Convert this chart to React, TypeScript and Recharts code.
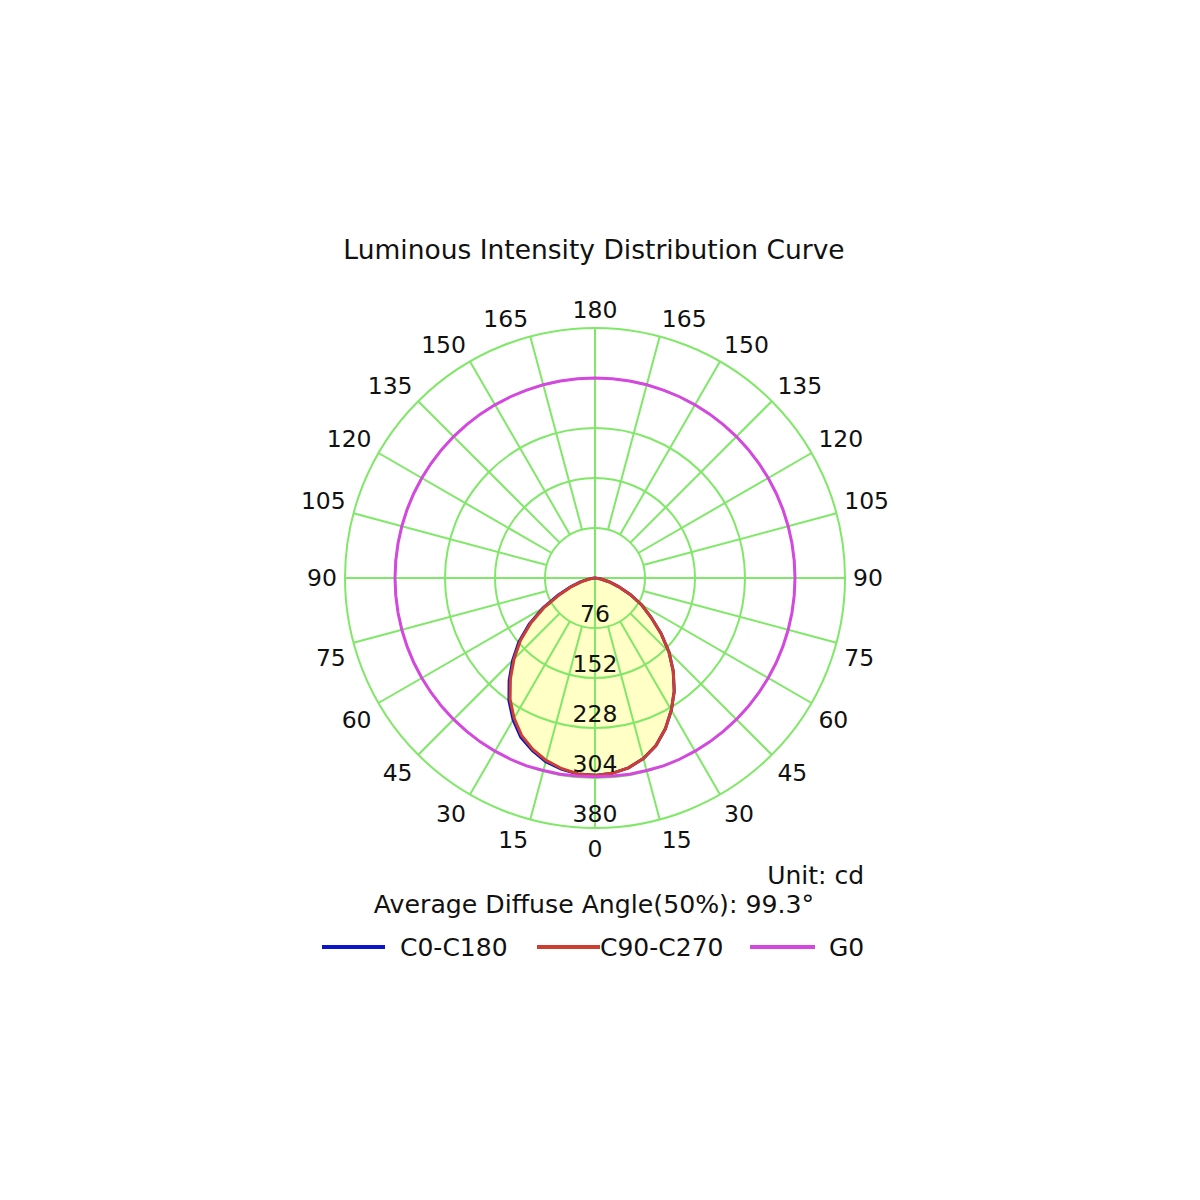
import React from 'react';
import { RadarChart, Radar, PolarGrid, PolarAngleAxis, PolarRadiusAxis } from 'recharts';

// gamma angle of each sample, going from the bottom (0) round through the left side
const gammaAngles = [
  0, 5, 10, 15, 20, 25, 30, 35, 40, 45, 50, 55, 60, 65, 70, 75, 80, 85,
  90, 95, 100, 105, 110, 115, 120, 125, 130, 135, 140, 145, 150, 155, 160, 165, 170, 175,
  180, 185, 190, 195, 200, 205, 210, 215, 220, 225, 230, 235, 240, 245, 250, 255, 260, 265,
  270, 275, 280, 285, 290, 295, 300, 305, 310, 315, 320, 325, 330, 335, 340, 345, 350, 355,
];

// intensities in cd
const c0c180 = [
  300, 299, 295, 289, 279, 267, 249, 228, 203, 177, 151, 122, 91, 62, 40, 23, 10, 3,
  0, 0, 0, 0, 0, 0, 0, 0, 0, 0, 0, 0, 0, 0, 0, 0, 0, 0,
  0, 0, 0, 0, 0, 0, 0, 0, 0, 0, 0, 0, 0, 0, 0, 0, 0, 0,
  0, 2, 9, 22, 38, 59, 82, 104, 131, 159, 185, 210, 232, 253, 271, 284, 293, 298,
];

const c90c270 = [
  300, 299, 294, 287, 277, 264, 246, 225, 200, 174, 148, 119, 89, 59, 38, 21, 9, 2,
  0, 0, 0, 0, 0, 0, 0, 0, 0, 0, 0, 0, 0, 0, 0, 0, 0, 0,
  0, 0, 0, 0, 0, 0, 0, 0, 0, 0, 0, 0, 0, 0, 0, 0, 0, 0,
  0, 2, 9, 22, 38, 59, 82, 104, 131, 159, 185, 210, 232, 253, 271, 284, 293, 298,
];

const g0 = [
  302, 302, 303, 303, 304, 304, 304, 304, 304, 304, 304, 304, 304, 304, 304, 304, 304, 304,
  304, 304, 304, 304, 304, 304, 304, 304, 304, 304, 304, 304, 304, 304, 304, 304, 304, 304,
  304, 304, 304, 304, 304, 304, 304, 304, 304, 304, 304, 304, 304, 304, 304, 304, 304, 304,
  304, 304, 304, 304, 304, 304, 304, 304, 304, 304, 304, 304, 304, 304, 304, 303, 303, 302,
];

const radiusTicks = [76, 152, 228, 304, 380];
const radiusDomain = [0, 380];
const labelStep = 15;

const seriesNames = ['C0-C180', 'C90-C270', 'G0'];
const titleText = 'Luminous Intensity Distribution Curve';
const unitText = 'Unit: cd';
const diffuseText = 'Average Diffuse Angle(50%): 99.3°';

const rows = gammaAngles.map((deg, i) => ({
  deg,
  c0: c0c180[i],
  c90: c90c270[i],
  g0: g0[i],
}));

// layout
const W = 1200;
const H = 1200;
const CX = 595;
const CY = 578;
const OUTER = 250;
const INNER_HOLE = 50;
// clockwise from the bottom
const START = -90;
const END = -450;

const GRID = '#80e868';
const BLUE = '#0a14c8';
const RED = '#cc3d32';
const PURPLE = '#d448e0';
const FILL = '#ffffc6';
const FONT = '"DejaVu Sans", Verdana, sans-serif';

const spokeAngles = gammaAngles.filter((d) => d % labelStep === 0).map((d) => START - d);
const crossAngles = [-90, 0, 90, 180];
const ringRadii = radiusTicks.map((v) => (v / radiusDomain[1]) * OUTER);

const layer: React.CSSProperties = { position: 'absolute', left: 0, top: 0 };
const noMargin = { top: 0, right: 0, bottom: 0, left: 0 };

const tickText: React.CSSProperties = { fontFamily: FONT, fontSize: 23.5, fill: '#111' };

const AngleTick = (props: any) => {
  const { x, y, payload, textAnchor } = props;
  const deg = Number(payload.value);
  if (deg % labelStep !== 0) return <g />;
  const gamma = deg <= 180 ? deg : 360 - deg;
  const dy = gamma === 90 ? 0 : gamma < 90 ? 13 : -10;
  return (
    <text x={x} y={y + dy} textAnchor={textAnchor} dominantBaseline="central" style={tickText}>
      {gamma}
    </text>
  );
};

const RadiusTick = (props: any) => {
  const { x, y, payload } = props;
  return (
    <text x={x} y={y - 14} textAnchor="middle" dominantBaseline="central" style={tickText}>
      {payload.value}
    </text>
  );
};

const chartProps = {
  width: W,
  height: H,
  cx: CX,
  cy: CY,
  outerRadius: OUTER,
  startAngle: START,
  endAngle: END,
  data: rows,
  margin: noMargin,
};

const legendLayout = [
  { color: BLUE, lineLeft: 322, lineWidth: 63, textLeft: 400 },
  { color: RED, lineLeft: 537, lineWidth: 63, textLeft: 600 },
  { color: PURPLE, lineLeft: 750, lineWidth: 65, textLeft: 829 },
];

const textBase: React.CSSProperties = {
  position: 'absolute',
  fontFamily: FONT,
  color: '#111',
  whiteSpace: 'nowrap',
  lineHeight: 1,
};

export default function App() {
  return (
    <div style={{ position: 'relative', width: W, height: H, background: '#fff' }}>
      <style>{'body{margin:0}'}</style>

      {/* yellow body of the lobe */}
      <div style={layer}>
        <RadarChart {...chartProps} innerRadius={0}>
          <PolarAngleAxis dataKey="deg" tick={false} axisLine={false} tickLine={false} />
          <PolarRadiusAxis domain={radiusDomain} ticks={radiusTicks} tick={false} axisLine={false} />
          <Radar dataKey="c90" stroke="none" fill={FILL} fillOpacity={1} isAnimationActive={false} />
        </RadarChart>
      </div>

      {/* spokes that start at the inner ring */}
      <div style={layer}>
        <RadarChart {...chartProps} innerRadius={INNER_HOLE}>
          <PolarAngleAxis dataKey="deg" tick={false} axisLine={false} tickLine={false} />
          <PolarGrid gridType="circle" polarAngles={spokeAngles} polarRadius={[]} stroke={GRID} strokeWidth={2} strokeOpacity={1} />
        </RadarChart>
      </div>

      {/* rings and the two lines through the centre */}
      <div style={layer}>
        <RadarChart {...chartProps} innerRadius={0}>
          <PolarAngleAxis dataKey="deg" tick={false} axisLine={false} tickLine={false} />
          <PolarRadiusAxis domain={radiusDomain} ticks={radiusTicks} tick={false} axisLine={false} />
          <PolarGrid gridType="circle" polarAngles={crossAngles} polarRadius={ringRadii} stroke={GRID} strokeWidth={2} strokeOpacity={1} />
        </RadarChart>
      </div>

      {/* curves and the intensity scale */}
      <div style={layer}>
        <RadarChart {...chartProps} innerRadius={0}>
          <PolarAngleAxis dataKey="deg" tick={false} axisLine={false} tickLine={false} />
          <Radar name={seriesNames[0]} dataKey="c0" stroke={BLUE} strokeWidth={3} fill="none" fillOpacity={0} isAnimationActive={false} />
          <Radar name={seriesNames[1]} dataKey="c90" stroke={RED} strokeWidth={3} fill="none" fillOpacity={0} isAnimationActive={false} />
          <Radar name={seriesNames[2]} dataKey="g0" stroke={PURPLE} strokeWidth={3} fill="none" fillOpacity={0} isAnimationActive={false} />
          <PolarRadiusAxis angle={-90} domain={radiusDomain} ticks={radiusTicks} tick={RadiusTick} axisLine={false} />
        </RadarChart>
      </div>

      {/* angle labels */}
      <div style={layer}>
        <RadarChart {...chartProps} innerRadius={0}>
          <PolarAngleAxis dataKey="deg" tick={AngleTick} tickSize={8} axisLine={false} tickLine={false} />
        </RadarChart>
      </div>

      <div style={{ ...textBase, fontSize: 26.5, left: 594, top: 250, transform: 'translate(-50%, -50%)' }}>
        {titleText}
      </div>
      <div style={{ ...textBase, fontSize: 25, right: W - 864, top: 875, transform: 'translateY(-50%)' }}>
        {unitText}
      </div>
      <div style={{ ...textBase, fontSize: 25.2, left: 594, top: 905, transform: 'translate(-50%, -50%)' }}>
        {diffuseText}
      </div>

      {seriesNames.map((name, i) => {
        const l = legendLayout[i];
        return (
          <React.Fragment key={name}>
            <div
              style={{
                position: 'absolute',
                left: l.lineLeft,
                top: 945,
                width: l.lineWidth,
                height: 4,
                background: l.color,
              }}
            />
            <div style={{ ...textBase, fontSize: 25, left: l.textLeft, top: 947, transform: 'translateY(-50%)' }}>
              {name}
            </div>
          </React.Fragment>
        );
      })}
    </div>
  );
}
